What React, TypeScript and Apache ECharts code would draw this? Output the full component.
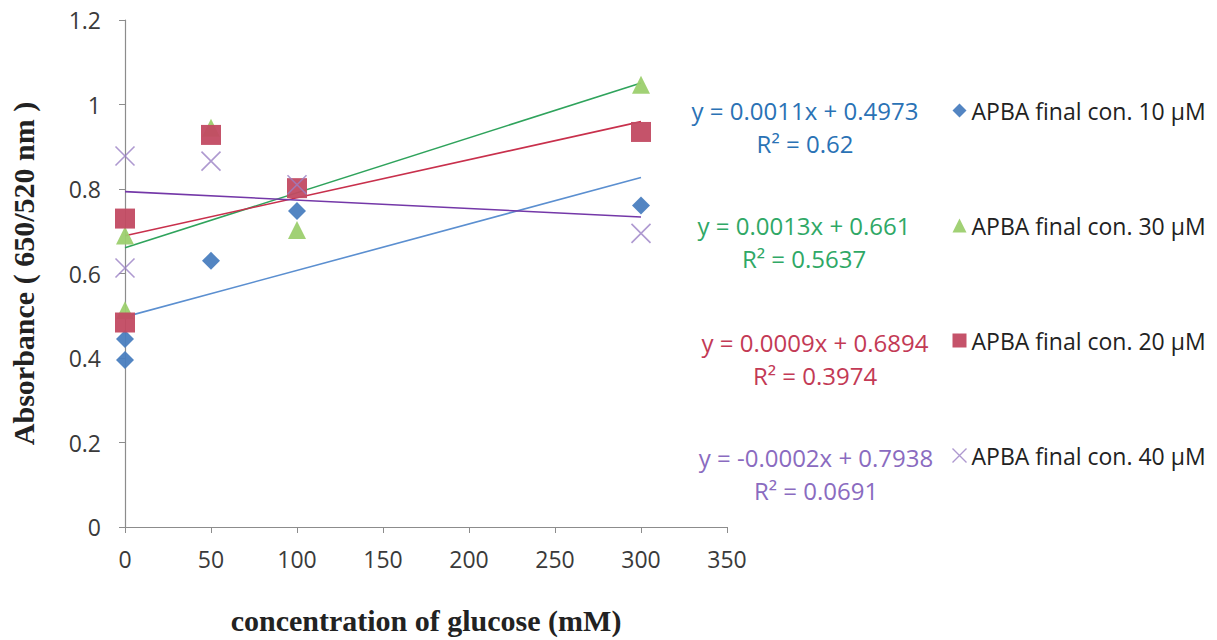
import React, { useEffect, useRef } from "react";
import * as echarts from "echarts";

// Glucose concentration (mM) for each measurement
const glucose10 = [0, 0, 50, 100, 300];
const absorb10 = [0.445, 0.395, 0.63, 0.748, 0.761];

const glucose30 = [0, 0, 50, 100, 300];
const absorb30 = [0.69, 0.513, 0.945, 0.703, 1.047];

const glucose20 = [0, 0, 50, 100, 300];
const absorb20 = [0.73, 0.484, 0.928, 0.802, 0.935];

const glucose40 = [0, 0, 50, 100, 300];
const absorb40 = [0.878, 0.613, 0.866, 0.81, 0.695];

// Linear trend lines: slope, intercept, R²
const seriesNames = [
  "APBA final con. 10 µM",
  "APBA final con. 30 µM",
  "APBA final con. 20 µM",
  "APBA final con. 40 µM",
];
const slopes = [0.0011, 0.0013, 0.0009, -0.0002];
const intercepts = [0.4973, 0.661, 0.6894, 0.7938];
const rSquared = ["0.62", "0.5637", "0.3974", "0.0691"];
const trendRange = [0, 300];

const xTicks = [0, 50, 100, 150, 200, 250, 300, 350];
const yTicks = [0, 0.2, 0.4, 0.6, 0.8, 1, 1.2];

const markerColors = ["#4a7ebf", "#9ccf6e", "#c24a62", "#9a80c4"];
const lineColors = ["#5b8fd0", "#2fa35c", "#c8304c", "#7438a8"];
const textColors = ["#2a72b5", "#2fa866", "#c33a55", "#8a6bc0"];

const CROSS = "path://M0,0L10,10M10,0L0,10";
const symbols = ["diamond", "triangle", "rect", CROSS];
const symbolSizes = [18, 18, 20, 19];

const FONT = "'Open Sans', Lato, sans-serif";
const SERIF = "'Liberation Serif', 'DejaVu Serif', serif";

function pairs(xs: number[], ys: number[]) {
  return xs.map((x, i) => [x, ys[i]]);
}

function eqText(i: number) {
  const m = slopes[i];
  const sign = m < 0 ? "-" : "";
  return `y = ${sign}${Math.abs(m).toFixed(4)}x + ${intercepts[i]}`;
}

export default function App() {
  const ref = useRef<HTMLDivElement>(null);

  useEffect(() => {
    if (!ref.current) return;
    const chart = echarts.init(ref.current, undefined, { renderer: "svg" });

    const scatterData = [
      pairs(glucose10, absorb10),
      pairs(glucose30, absorb30),
      pairs(glucose20, absorb20),
      pairs(glucose40, absorb40),
    ];

    const scatterSeries = scatterData.map((data, i) => ({
      type: "scatter",
      name: seriesNames[i],
      data,
      symbol: symbols[i],
      symbolSize: symbolSizes[i],
      z: 3,
      itemStyle:
        i === 3
          ? { color: "none", borderColor: markerColors[i], borderWidth: 1.6 }
          : { color: markerColors[i], opacity: 0.95 },
    }));

    const trendSeries = slopes.map((m, i) => ({
      type: "line",
      name: "trend" + i,
      data: trendRange.map((x) => [x, m * x + intercepts[i]]),
      showSymbol: false,
      symbol: "none",
      silent: true,
      z: 2,
      lineStyle: { color: lineColors[i], width: 1.6 },
    }));

    // Equation + R² labels beside the legend entries
    const eqCenters = [805, 804, 815, 816];
    const eqTops = [110, 225, 342, 457];
    const eqGraphics: any[] = [];
    slopes.forEach((_, i) => {
      eqGraphics.push({
        type: "text",
        x: eqCenters[i],
        y: eqTops[i],
        style: {
          text: eqText(i),
          fill: textColors[i],
          font: `24px ${FONT}`,
          align: "center",
          verticalAlign: "middle",
        },
      });
      eqGraphics.push({
        type: "text",
        x: eqCenters[i],
        y: eqTops[i] + 33,
        style: {
          text: `R² = ${rSquared[i]}`,
          fill: textColors[i],
          font: `24px ${FONT}`,
          align: "center",
          verticalAlign: "middle",
        },
      });
    });

    chart.setOption({
      animation: false,
      backgroundColor: "#ffffff",
      grid: { left: 112, right: 490, top: 20, bottom: 109, containLabel: false },
      xAxis: {
        type: "value",
        min: xTicks[0],
        max: xTicks[xTicks.length - 1],
        interval: xTicks[1] - xTicks[0],
        axisLine: { show: true, onZero: false, lineStyle: { color: "#8c8c8c", width: 1.2 } },
        axisTick: { show: true, length: 6, lineStyle: { color: "#8c8c8c" } },
        splitLine: { show: false },
        axisLabel: { color: "#3a3a3a", fontSize: 23, fontFamily: FONT, margin: 20 },
        name: "concentration of glucose (mM)",
        nameLocation: "middle",
        nameGap: 78,
        nameTextStyle: {
          fontFamily: SERIF,
          fontWeight: "bold",
          fontSize: 30,
          color: "#222",
        },
      },
      yAxis: {
        type: "value",
        min: yTicks[0],
        max: yTicks[yTicks.length - 1],
        interval: 0.2,
        axisLine: { show: true, onZero: false, lineStyle: { color: "#8c8c8c", width: 1.2 } },
        axisTick: { show: true, length: 6, lineStyle: { color: "#8c8c8c" } },
        splitLine: { show: false },
        axisLabel: {
          color: "#3a3a3a",
          fontSize: 23,
          fontFamily: FONT,
          margin: 24,
          formatter: (v: number) => String(Math.round(v * 10) / 10),
        },
        name: "Absorbance ( 650/520 nm )",
        nameLocation: "middle",
        nameGap: 87,
        nameRotate: 90,
        nameTextStyle: {
          fontFamily: SERIF,
          fontWeight: "bold",
          fontSize: 30,
          color: "#222",
        },
      },
      legend: {
        orient: "vertical",
        left: 950,
        top: 99,
        padding: 0,
        itemGap: 92,
        itemWidth: 14,
        itemHeight: 14,
        textStyle: { color: "#222", fontSize: 23, fontFamily: FONT },
        data: seriesNames.map((name, i) => ({
          name,
          icon: symbols[i],
          itemStyle:
            i === 3
              ? { color: "none", borderColor: markerColors[i], borderWidth: 1.4 }
              : { color: markerColors[i] },
        })),
      },
      graphic: eqGraphics,
      series: [...trendSeries, ...scatterSeries],
    });

    return () => chart.dispose();
  }, []);

  // Fill the whole viewport, independent of the body's default margin
  return (
    <div
      ref={ref}
      style={{ position: "fixed", left: 0, top: 0, width: 1217, height: 640 }}
    />
  );
}
